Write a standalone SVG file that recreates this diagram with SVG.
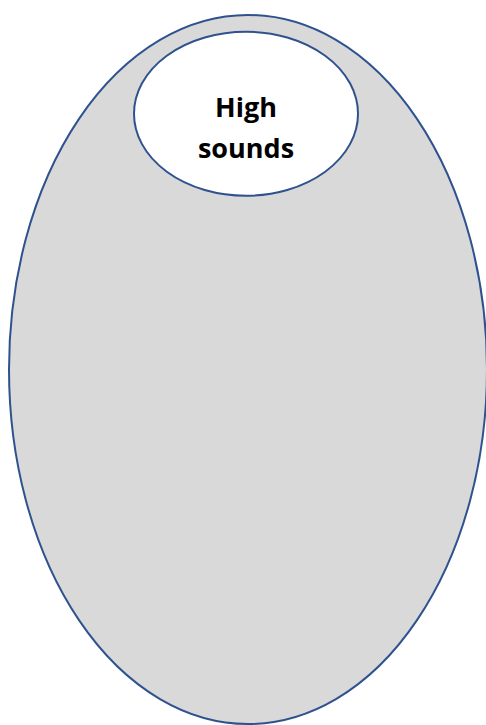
<svg xmlns="http://www.w3.org/2000/svg" width="486" height="725" viewBox="0 0 486 725">
<style>
.shape{stroke:#2F528F;stroke-width:2}
.lbl{font-family:"Open Sans","Liberation Sans",sans-serif;font-weight:700;font-size:27px;fill:#000;text-anchor:middle}
</style>
<rect width="486" height="725" fill="#fff"/>
<g id="outer">
<ellipse class="shape" cx="248" cy="369.5" rx="239" ry="354.5" fill="#D9D9D9"/>
</g>
<g id="high-sounds">
<ellipse class="shape" cx="246" cy="113.7" rx="112" ry="82" fill="#fff"/>
<text class="lbl" x="246" y="116.7">High</text>
<text class="lbl" x="246" y="158">sounds</text>
</g>
<g id="connectors"></g>
</svg>
